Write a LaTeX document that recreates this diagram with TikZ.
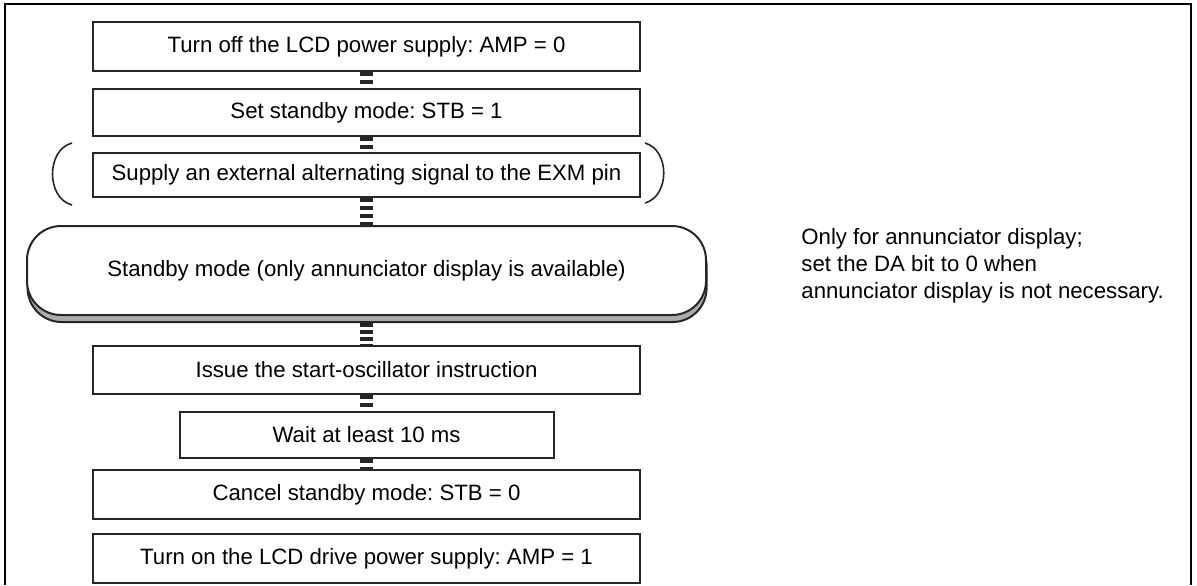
\documentclass[tikz,border=0pt]{standalone}
\usepackage{fontspec}
\setmainfont{Liberation Sans}
\frenchspacing
\usetikzlibrary{positioning, shapes.misc, shadows}
\definecolor{FlowLine}{HTML}{262626}

\begin{document}
\begin{tikzpicture}[x=0.5pt, y=-0.5pt, node distance=8pt,
        box/.style={rectangle, draw=FlowLine, line width=1pt, fill=white, text centered, minimum width=273.5pt, minimum height=24pt, inner sep=0pt, font=\fontsize{11.1}{13}\selectfont},
        term/.style={rectangle, rounded corners=17pt, draw=FlowLine, line width=1pt, fill=white, minimum width=339.5pt, minimum height=44.5pt, inner sep=0pt, font=\fontsize{11.1}{13}\selectfont, copy shadow={shadow xshift=0.3pt, shadow yshift=-3.5pt, fill=gray!65, draw=FlowLine, line width=1pt}},
        link/.style={FlowLine, line width=6.5pt, dash pattern=on 2pt off 2pt},
        paren/.style={FlowLine, line width=0.8pt},
        note/.style={align=left, inner sep=0pt, font=\fontsize{11.1}{10.8}\selectfont}]

        \useasboundingbox (0,0) rectangle (1197,585);
        % frame (open at the bottom)
        \draw[line width=0.9pt] (5,585) -- (5,4) -- (1191,4) -- (1191,585);

        \node[box, minimum height=24.5pt] (ampoff) at (366.5,46.5) {Turn off the LCD power supply: AMP = 0};
        \node[box, minimum height=23.5pt, below=8pt of ampoff] (stbon) {Set standby mode: STB = 1};
        \node[box, minimum height=22pt, below=7.5pt of stbon] (exm) {Supply an external alternating signal to the EXM pin};
        \node[term, below=13.5pt of exm] (standby) {Standby mode (only annunciator display is available)};
        \node[box, below=14.5pt of standby] (osc) {Issue the start-oscillator instruction};
        \node[box, minimum width=187pt, minimum height=23pt, below=8pt of osc] (wait) {Wait at least 10 ms};
        \node[box, minimum height=24.5pt, below=5pt of wait] (stboff) {Cancel standby mode: STB = 0};
        \node[box, minimum height=24.5pt, below=6.5pt of stboff] (ampon) {Turn on the LCD drive power supply: AMP = 1};

        \node[note, anchor=west] (hint) at (801,266) {Only for annunciator display;\\[2.6pt]set the DA bit to 0 when\\[2.6pt]annunciator display is not necessary.};

        % brackets round the optional step
        \draw[paren] (72,143) .. controls (46,150) and (46,198) .. (72,205);
        \draw[paren] (645,143) .. controls (670,150) and (670,196) .. (645,203);

        \draw[link] (ampoff) -- (stbon);
        \draw[link] (stbon) -- (exm);
        \draw[link] (exm) -- (standby);
        \draw[link, dash pattern=on 1.8pt off 1.7pt] ([yshift=-3.5pt]standby.south) -- (osc);
        \draw[link] (osc) -- (wait);
        \draw[link] (wait) -- (stboff);
    \end{tikzpicture}
\end{document}
